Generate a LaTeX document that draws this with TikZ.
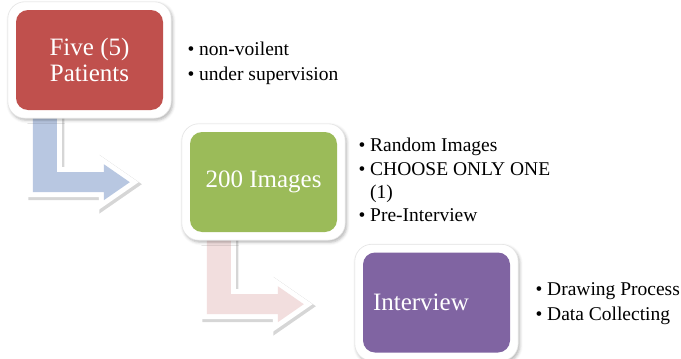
\documentclass[tikz,border=0pt]{standalone}
\usepackage{fontspec}
\setmainfont{Liberation Serif}
\usetikzlibrary{shadows.blur}

\definecolor{boxred}{HTML}{C0504D}
\definecolor{boxgreen}{HTML}{9BBB59}
\definecolor{boxpurple}{HTML}{8064A2}
\definecolor{arrowblue}{HTML}{B8C7E1}
\definecolor{arrowpink}{HTML}{F2DEDE}

\pgfdeclarelayer{back}
\pgfsetlayers{back,main}

% Bent (down, then right) arrow hanging below a box.
% #1 = box it hangs from, #2 = fill colour
\newcommand\bentarrowdraw[2]{%
  \begin{scope}[shift={(#1.south west)}]
    \path[draw=black!16, line width=12pt, shift={(1.5,2)}]
      (17,2) -- (41,2) -- (41,62) -- (88,62) -- (88,54) -- (114,72)
      -- (88,90) -- (88,82) -- (17,82) -- cycle;
    \path[draw=white, fill=white, line width=10pt]
      (17,2) -- (41,2) -- (41,62) -- (88,62) -- (88,54) -- (114,72)
      -- (88,90) -- (88,82) -- (17,82) -- cycle;
    \path[fill=#2]
      (17,2) -- (41,2) -- (41,62) -- (88,62) -- (88,54) -- (114,72)
      -- (88,90) -- (88,82) -- (17,82) -- cycle;
  \end{scope}}

\begin{document}
\begin{tikzpicture}[x=1pt,y=-1pt,
  stepbox/.style={rounded corners=12pt, minimum width=147pt,
    minimum height=100pt, inner sep=0pt, text=white,
    font=\fontsize{25}{26}\selectfont, align=center},
  frame/.style={fill=white, draw=black!10, line width=0.6pt,
    rounded corners=17pt,
    blur shadow={shadow xshift=1.5pt, shadow yshift=-2pt,
      shadow blur radius=3pt, shadow opacity=30}},
  bullet/.style={anchor=base west, inner sep=0pt,
    font=\fontsize{19.5}{23}\selectfont}]

\useasboundingbox (0,0) rectangle (681,359);
\clip (0,0) rectangle (681,359);

% the three steps
\node[stepbox, fill=boxred] (five) at (89.5,60) {Five (5)\\Patients};
\node[stepbox, fill=boxgreen] (images) at (263.5,182) {200 Images};
\node[stepbox, fill=boxpurple, text width=127pt, align=left,
  inner xsep=10pt] (interview) at (436.5,302.5) {Interview};

% arrows and white frames behind the steps
\begin{pgfonlayer}{back}
  \bentarrowdraw{five}{arrowblue}
  \bentarrowdraw{images}{arrowpink}
  \foreach \b in {five,images,interview}
    \draw[frame] ([xshift=-8pt,yshift=8pt]\b.north west)
      rectangle ([xshift=8pt,yshift=-8pt]\b.south east);
\end{pgfonlayer}

% notes beside each step
\node[bullet] (n1) at (187.3,55) {\textbullet\ non-voilent};
\node[bullet] (n2) at (187.3,80) {\textbullet\ under supervision};

\node[bullet] (r1) at (358.3,151) {\textbullet\ Random Images};
\node[bullet] (r2) at (358.3,175) {\textbullet\ CHOOSE ONLY ONE};
\node[bullet] (r2b) at (370,198) {(1)};
\node[bullet] (r3) at (358.3,221) {\textbullet\ Pre-Interview};

\node[bullet] (d1) at (535.3,295) {\textbullet\ Drawing Process};
\node[bullet] (d2) at (535.3,320) {\textbullet\ Data Collecting};
\end{tikzpicture}
\end{document}
